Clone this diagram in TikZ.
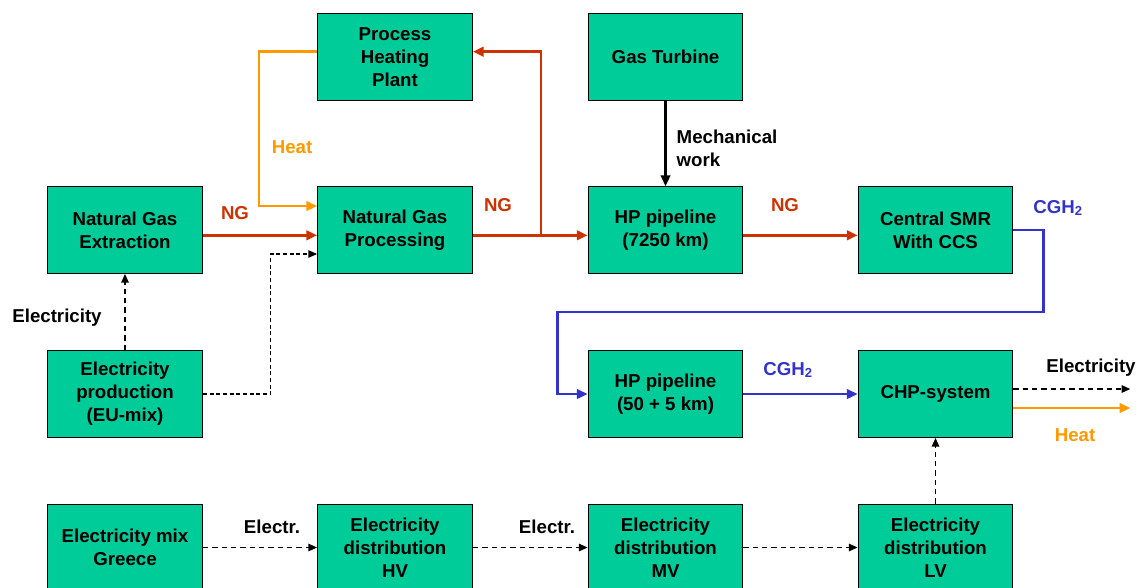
\documentclass[tikz,border=0pt]{standalone}
\usepackage{fontspec}
\setmainfont{Liberation Sans}
\usepackage{xcolor}
\usetikzlibrary{positioning,arrows.meta,calc}
\definecolor{boxgreen}{HTML}{00CC99}
\definecolor{ngred}{HTML}{CC3300}
\definecolor{heatorange}{HTML}{FF9900}
\definecolor{hblue}{HTML}{3333CC}

\begin{document}
\begin{tikzpicture}[x=0.75pt,y=-0.75pt,
        every node/.style={font=\fontsize{14}{17.25}\selectfont\bfseries},
        unit/.style={draw=black,line width=0.8pt,fill=boxgreen,minimum width=116pt,minimum height=65pt,align=center,inner sep=2pt},
        flow/.style={-{Triangle[length=8pt,width=7pt]},line width=2pt},
        elec/.style={-{Triangle[length=6.5pt,width=5.5pt]},line width=1.2pt,dash pattern=on 4pt off 3pt}]
        \useasboundingbox (0,0) rectangle (1141,587);
        \clip (0,0) rectangle (1141,587);
        % boxes
        \node[unit] (heating) at (395,57) {Process\\Heating\\Plant};
        \node[unit] (turbine) at (665.5,57) {Gas Turbine};
        \node[unit] (extraction) at (125,230) {Natural Gas\\Extraction};
        \node[unit] (processing) at (395,230) {Natural Gas\\Processing};
        \node[unit] (hppipe) at (665.5,230) {HP pipeline\\(7250 km)};
        \node[unit] (smr) at (935.5,230) {Central SMR\\With CCS};
        \node[unit] (elecprod) at (125,394) {Electricity\\production\\(EU-mix)};
        \node[unit] (hpshort) at (665.5,394) {HP pipeline\\(50 + 5 km)};
        \node[unit] (chp) at (935.5,394) {CHP-system};
        \node[unit] (mixgr) at (125,547.5) {Electricity mix\\Greece};
        \node[unit] (distHV) at (395,547.5) {Electricity\\distribution\\HV};
        \node[unit] (distMV) at (665.5,547.5) {Electricity\\distribution\\MV};
        \node[unit] (distLV) at (935.5,547.5) {Electricity\\distribution\\LV};
        % natural gas
        \draw[flow,ngred] ([yshift=-4pt]extraction.east) -- ([yshift=-4pt]processing.west);
        \draw[flow,ngred] ([yshift=-4pt]processing.east) -- ++(68,0) coordinate (split) -- ([yshift=-4pt]hppipe.west);
        \draw[flow,ngred] (split) |- ([yshift=4pt]heating.east);
        \draw[flow,ngred] ([yshift=-4pt]hppipe.east) -- ([yshift=-4pt]smr.west);
        \draw[flow,heatorange] ([yshift=4pt]heating.west) -- ++(-58,0) |- ([yshift=18pt]processing.west);
        \draw[flow,black] (turbine.south) -- (hppipe.north);
        % hydrogen
        \draw[flow,hblue] (smr.east) -- ++(30,0) -- ++(0,82) -| ([xshift=-22.5pt]hpshort.west) -- (hpshort.west);
        \draw[flow,hblue] (hpshort.east) -- (chp.west);
        \draw[flow,heatorange] ([yshift=-10.5pt]chp.east) -- ++(117,0) coordinate (heatout);
        % electricity
        \draw[elec] (elecprod.north) -- (extraction.south);
        \draw[elec,line width=0.8pt,dash pattern=on 3pt off 2pt] (elecprod.east) -- ++(68,0) |- ([yshift=-18pt]processing.west);
        \draw[elec] ([yshift=3.75pt]chp.east) -- ++(117,0) coordinate (elecout);
        \draw[elec] (distLV.north) -- (chp.south);
        \draw[elec] (mixgr.east) -- (distHV.west);
        \draw[elec] (distHV.east) -- (distMV.west);
        \draw[elec] (distMV.east) -- (distLV.west);
        % labels
        \node[text=ngred] (ng1) at (235,213) {NG};
        \node[text=ngred] (ng2) at (498,205) {NG};
        \node[text=ngred] (ng3) at (785,205) {NG};
        \node[text=heatorange] (heat1) at (292,147) {Heat};
        \node[text=heatorange] (heat2) at (1075,435) {Heat};
        \node[anchor=west,align=left] (mech) at (672,148) {Mechanical\\work};
        \node[text=hblue] (cgh1) at (1058,208) {CGH\textsubscript{2}};
        \node[text=hblue] (cgh2) at (788,370) {CGH\textsubscript{2}};
        \node (elec1) at (57,318) {Electricity};
        \node (elec2) at (1091,368) {Electricity};
        \node (electr1) at (272,527) {Electr.};
        \node (electr2) at (547,527) {Electr.};
    \end{tikzpicture}
\end{document}
